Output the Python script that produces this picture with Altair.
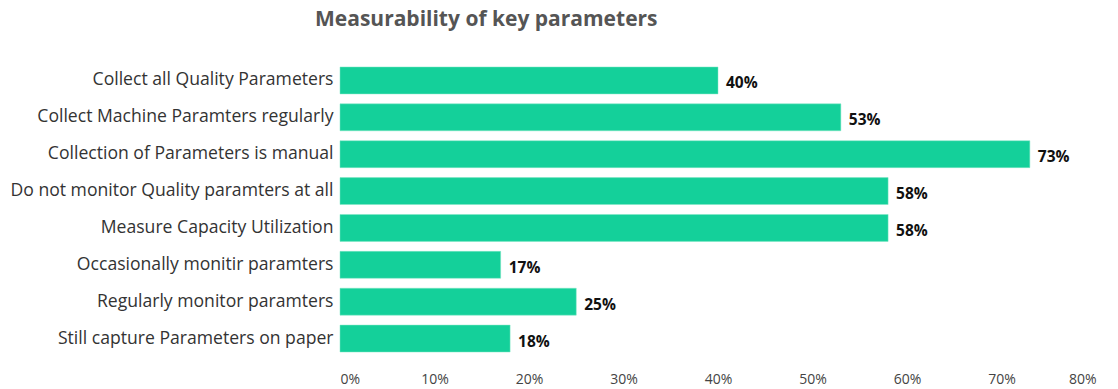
import altair as alt
import pandas as pd

categories = [
    "Collect all Quality Parameters",
    "Collect Machine Paramters regularly",
    "Collection of Parameters is manual",
    "Do not monitor Quality paramters at all",
    "Measure Capacity Utilization",
    "Occasionally monitir paramters",
    "Regularly monitor paramters",
    "Still capture Parameters on paper",
]
values = [0.40, 0.53, 0.73, 0.58, 0.58, 0.17, 0.25, 0.18]

df = pd.DataFrame({"category": categories, "value": values})

FONT = "Open Sans"

base = alt.Chart(df).encode(
    y=alt.Y(
        "category:N",
        sort=categories,
        title=None,
        scale=alt.Scale(paddingInner=0.27, paddingOuter=0.135),
        axis=alt.Axis(
            ticks=False, domain=False, labelFontSize=17.6, labelColor="#333333",
            labelPadding=7, labelFont=FONT, labelLimit=400,
        ),
    ),
    x=alt.X(
        "value:Q",
        title=None,
        scale=alt.Scale(domain=[0, 0.8], nice=False),
        axis=alt.Axis(
            format=".0%", values=[0, 0.1, 0.2, 0.3, 0.4, 0.5, 0.6, 0.7, 0.8],
            grid=False, ticks=False, domain=False, labelFontSize=14,
            labelColor="#444444", labelPadding=15, labelFont=FONT,
        ),
    ),
)

bars = base.mark_bar(color="#14D09A", stroke="#7FE6C4", strokeWidth=0.5)
text = base.mark_text(
    align="left", baseline="middle", dx=8, dy=3, fontSize=15.5, fontWeight="bold",
    color="#111111", font=FONT,
).encode(text=alt.Text("value:Q", format=".0%"))

chart = (
    (bars + text)
    .properties(
        width=756,
        height=295,
        title=alt.TitleParams(
            "Measurability of key parameters", anchor="start", frame="group",
            dx=-25, offset=32, fontSize=21, fontWeight="bold", color="#555555",
            font=FONT,
        ),
        autosize=alt.AutoSizeParams(type="none"),
        padding={"left": 340, "top": 62, "right": 22, "bottom": 32},
    )
    .configure_view(stroke=None)
)

chart.save("out.html", embed_options={"renderer": "svg", "actions": False})
